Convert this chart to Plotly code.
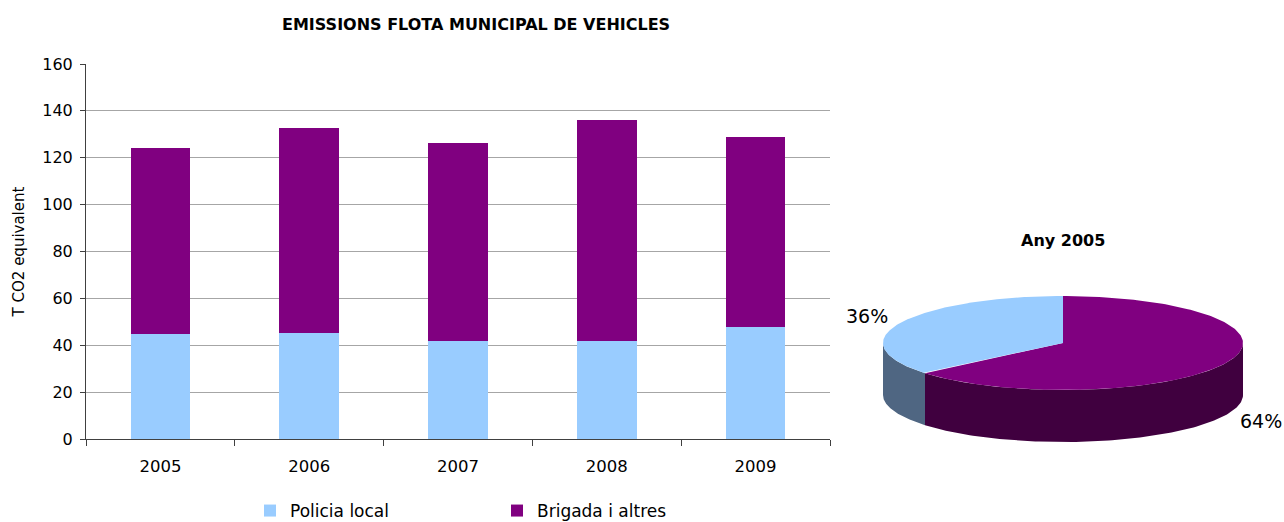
import numpy as np
import plotly.graph_objects as go

years = ["2005", "2006", "2007", "2008", "2009"]
policia = [44.8, 45.2, 41.8, 41.8, 47.8]
brigada = [79.3, 87.5, 84.5, 94.3, 81.0]
series_names = ["Policia local", "Brigada i altres"]
pie_year = "2005"

C_BLUE = "#99CCFF"
C_PURPLE = "#800080"
C_BLUE_SIDE = "#4F6682"
C_PURPLE_SIDE = "#40003F"
FONT = "DejaVu Sans"
W, H = 1284, 522

fig = go.Figure()
fig.add_trace(go.Bar(x=years, y=policia, name=series_names[0], marker=dict(color=C_BLUE, line=dict(width=0))))
fig.add_trace(go.Bar(x=years, y=brigada, name=series_names[1], marker=dict(color=C_PURPLE, line=dict(width=0))))

# --- pseudo 3D pie for the chosen year, angles derived from the data ---
i = years.index(pie_year)
vals = [brigada[i], policia[i]]          # purple first, clockwise from top
cols = [C_PURPLE, C_BLUE]
side_cols = [C_PURPLE_SIDE, C_BLUE_SIDE]
total = sum(vals)
RX, RY, DEPTH = 180.0, 47.0, 52.0

def ell(th):
    return RX * np.sin(th), RY * np.cos(th)

bounds = [0.0]
for v in vals:
    bounds.append(bounds[-1] + 2 * np.pi * v / total)

for k in range(len(vals)):
    a0 = max(bounds[k], np.pi / 2)
    a1 = min(bounds[k + 1], 3 * np.pi / 2)
    if a1 <= a0:
        continue
    th = np.linspace(a0, a1, 120)
    x, y = ell(th)
    xs = np.concatenate([x, x[::-1], x[:1]])
    ys = np.concatenate([y, (y - DEPTH)[::-1], y[:1]])
    fig.add_trace(go.Scatter(x=xs, y=ys, xaxis="x2", yaxis="y2", mode="lines", fill="toself",
                             fillcolor=side_cols[k], line=dict(width=0, color=side_cols[k]),
                             showlegend=False, hoverinfo="skip"))
for k in range(len(vals)):
    th = np.linspace(bounds[k], bounds[k + 1], 200)
    x, y = ell(th)
    xs = np.concatenate([[0], x, [0]])
    ys = np.concatenate([[0], y, [0]])
    fig.add_trace(go.Scatter(x=xs, y=ys, xaxis="x2", yaxis="y2", mode="lines", fill="toself",
                             fillcolor=cols[k], line=dict(width=0, color=cols[k]),
                             showlegend=False, hoverinfo="skip"))

pct_purple = round(100 * vals[0] / total)
pct_blue = round(100 * vals[1] / total)

annotations = [
    dict(text="<b>EMISSIONS FLOTA MUNICIPAL DE VEHICLES</b>", x=476 / W, y=1 - 25 / H,
         xref="paper", yref="paper", xanchor="center", yanchor="middle", showarrow=False,
         font=dict(size=16, family=FONT, color="#000")),
    dict(text="<b>Any " + pie_year + "</b>", x=1063 / W, y=1 - 240 / H, xref="paper", yref="paper",
         xanchor="center", yanchor="middle", showarrow=False,
         font=dict(size=16, family=FONT, color="#000")),
    dict(text=f"{pct_blue}%", x=-196, y=27, xref="x2", yref="y2", showarrow=False,
         xanchor="center", yanchor="middle", font=dict(size=19, family=FONT, color="#000")),
    dict(text=f"{pct_purple}%", x=198, y=-78, xref="x2", yref="y2", showarrow=False,
         xanchor="center", yanchor="middle", font=dict(size=19, family=FONT, color="#000")),
]

x2_dom = [0.66, 1.0]
fig.update_layout(
    width=W, height=H, margin=dict(l=0, r=0, t=0, b=0, autoexpand=False),
    paper_bgcolor="white", plot_bgcolor="white",
    barmode="stack", bargap=0.6,
    font=dict(family=FONT, size=16, color="#000"),
    xaxis=dict(domain=[86 / W, 830 / W], showline=True, linecolor="#404040", linewidth=1,
               ticks="outside", tickson="boundaries", ticklen=6, tickcolor="#404040",
               ticklabelstandoff=12,
               tickfont=dict(size=16.5, family=FONT), showgrid=False, automargin=False),
    yaxis=dict(domain=[(H - 439) / H, (H - 64) / H], range=[0, 160], dtick=20,
               showline=True, linecolor="#404040", linewidth=1, ticks="outside", ticklen=5,
               tickcolor="#404040", gridcolor="#A6A6A6", gridwidth=1, zeroline=False,
               ticklabelstandoff=4,
               tickfont=dict(size=16, family=FONT), automargin=False,
               title=dict(text="T CO2 equivalent", font=dict(size=15, family=FONT), standoff=14)),
    xaxis2=dict(domain=x2_dom, range=[x2_dom[0] * W - 1063, x2_dom[1] * W - 1063], visible=False,
                fixedrange=True),
    yaxis2=dict(domain=[0, 1], range=[-(H - 343), 343], visible=False, fixedrange=True, anchor="x2"),
    legend=dict(orientation="h", x=250 / W, xanchor="left", y=1 - 511 / H, yanchor="middle",
                font=dict(size=17, family=FONT), entrywidth=202, traceorder="normal",
                bgcolor="rgba(0,0,0,0)", itemwidth=30),
    annotations=annotations,
    showlegend=True,
)
fig.write_html("out.html", config={"displayModeBar": False},
               post_script="document.body.style.margin='0px';")
